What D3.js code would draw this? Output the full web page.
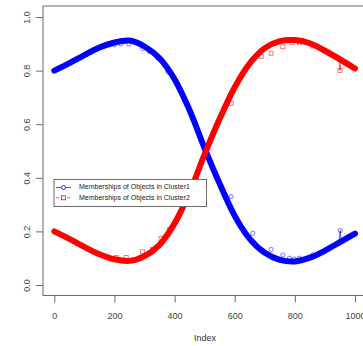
<!DOCTYPE html>
<html>
<head>
<meta charset="utf-8">
<script src="https://cdn.jsdelivr.net/npm/d3@7"></script>
<style>
  html, body { margin: 0; padding: 0; background: #fff; }
  svg { display: block; font-family: "Liberation Sans", Arial, sans-serif; }
</style>
</head>
<body>
<svg id="chart" width="363" height="346"></svg>
<script>
// Object index positions where memberships are sampled
const indexes = [0, 50, 100, 150, 200, 250, 300, 350, 400, 450, 500,
                 550, 600, 650, 700, 750, 800, 850, 900, 950, 1000];

// Membership of objects in cluster 1
const cluster1 = [0.800, 0.828, 0.858, 0.886, 0.905, 0.912, 0.890, 0.846, 0.768, 0.652, 0.510,
                  0.378, 0.258, 0.172, 0.120, 0.094, 0.088, 0.102, 0.128, 0.160, 0.192];

// Membership of objects in cluster 2
const cluster2 = [0.200, 0.172, 0.142, 0.115, 0.096, 0.090, 0.108, 0.150, 0.230, 0.345, 0.488,
                  0.620, 0.738, 0.827, 0.884, 0.910, 0.914, 0.902, 0.874, 0.842, 0.808];

// Individual objects standing off the main membership curves: [index, membership]
const cluster1Points = [[200, 0.896], [222, 0.899], [248, 0.899], [294, 0.883], [316, 0.871],
                        [344, 0.846], [377, 0.796], [588, 0.330], [660, 0.193], [721, 0.133],
                        [760, 0.112], [782, 0.100], [798, 0.097], [815, 0.100], [859, 0.112],
                        [920, 0.143]];
const cluster2Points = [[206, 0.103], [239, 0.103], [294, 0.124], [327, 0.133], [355, 0.174],
                        [383, 0.205], [588, 0.678], [688, 0.853], [721, 0.865], [760, 0.889],
                        [791, 0.904], [815, 0.904], [859, 0.892]];
// Short runs where a single object jumps away from the curve
const cluster1Spike = [[946, 0.158], [951, 0.203], [954, 0.162]];
const cluster2Spike = [[946, 0.842], [950, 0.800], [954, 0.838]];

const xTicks = [0, 200, 400, 600, 800, 1000];
const yTicks = [0, 0.2, 0.4, 0.6, 0.8, 1.0];
const legendLabels = ["Memberships of Objects in Cluster1", "Memberships of Objects in Cluster2"];

const svg = d3.select("#chart");
const box = { left: 43, top: 6, right: 372, bottom: 295.5 };

const x = d3.scaleLinear().domain([0, 1000]).range([54.3, 355]);
const y = d3.scaleLinear().domain([0, 1]).range([285, 17]);

// plot frame
svg.append("rect")
  .attr("x", box.left).attr("y", box.top)
  .attr("width", box.right - box.left).attr("height", box.bottom - box.top)
  .attr("fill", "none").attr("stroke", "#6a6a6a").attr("stroke-width", 1);

// y axis
const yAxis = svg.append("g").attr("transform", `translate(${box.left},0)`)
  .call(d3.axisLeft(y).tickValues(yTicks).tickSize(7).tickFormat(d3.format(".1f")));
yAxis.select(".domain").remove();
yAxis.selectAll(".tick line").attr("stroke", "#6a6a6a");
yAxis.selectAll(".tick text")
  .attr("x", 0).attr("dy", 0)
  .attr("transform", "translate(-15,0) rotate(-90)")
  .attr("text-anchor", "middle")
  .attr("dominant-baseline", "middle")
  .attr("font-size", 9).attr("fill", "#444")
  .attr("font-family", "'Liberation Sans', Arial, sans-serif");

// x axis
const xAxis = svg.append("g").attr("transform", `translate(0,${box.bottom})`)
  .call(d3.axisBottom(x).tickValues(xTicks).tickSize(7).tickFormat(d3.format("d")));
xAxis.select(".domain").remove();
xAxis.selectAll(".tick line").attr("stroke", "#6a6a6a");
xAxis.selectAll(".tick text")
  .attr("y", 17)
  .attr("font-size", 9).attr("fill", "#444")
  .attr("font-family", "'Liberation Sans', Arial, sans-serif");

svg.append("text")
  .attr("x", 205).attr("y", 341)
  .attr("text-anchor", "middle")
  .attr("font-size", 9).attr("fill", "#333")
  .text("Index");

const line = d3.line()
  .x(d => x(d[0])).y(d => y(d[1]))
  .curve(d3.curveCatmullRom.alpha(0.5));
const thinLine = d3.line().x(d => x(d[0])).y(d => y(d[1]));

const series = [
  { values: cluster1, points: cluster1Points, spike: cluster1Spike, color: "#0000ff", shape: "circle" },
  { values: cluster2, points: cluster2Points, spike: cluster2Spike, color: "#ff0000", shape: "square" }
];

series.forEach(s => {
  const data = indexes.map((ix, i) => [ix, s.values[i]]);
  const g = svg.append("g");

  const drawMark = (sel, p) => {
    if (s.shape === "circle") {
      sel.append("circle").attr("cx", x(p[0])).attr("cy", y(p[1])).attr("r", 2.1)
        .attr("fill", "none").attr("stroke", s.color).attr("stroke-width", 0.7).attr("opacity", 0.75);
    } else {
      sel.append("rect").attr("x", x(p[0]) - 2).attr("y", y(p[1]) - 2)
        .attr("width", 4).attr("height", 4)
        .attr("fill", "none").attr("stroke", s.color).attr("stroke-width", 0.7).attr("opacity", 0.75);
    }
  };

  s.points.forEach(p => drawMark(g, p));

  g.append("path").datum(s.spike)
    .attr("d", thinLine)
    .attr("fill", "none").attr("stroke", s.color).attr("stroke-width", 0.8).attr("opacity", 0.8);
  drawMark(g, s.spike[1]);

  g.append("path").datum(data)
    .attr("d", line)
    .attr("fill", "none")
    .attr("stroke", s.color)
    .attr("stroke-width", 6)
    .attr("stroke-linecap", "round")
    .attr("stroke-linejoin", "round");
});

// legend
const lg = svg.append("g");
lg.append("rect")
  .attr("x", 54).attr("y", 179.5).attr("width", 152.5).attr("height", 27)
  .attr("fill", "#fff").attr("stroke", "#6a6a6a").attr("stroke-width", 1);

series.forEach((s, i) => {
  const yy = 187.5 + i * 10.3;
  lg.append("line")
    .attr("x1", 56).attr("x2", 71).attr("y1", yy).attr("y2", yy)
    .attr("stroke", s.color).attr("stroke-width", 0.8)
    .attr("stroke-dasharray", i === 1 ? "3,2.5" : null)
    .attr("opacity", 0.85);
  if (s.shape === "circle") {
    lg.append("circle").attr("cx", 63.5).attr("cy", yy).attr("r", 2)
      .attr("fill", "#fff").attr("stroke", s.color).attr("stroke-width", 0.8);
  } else {
    lg.append("rect").attr("x", 61.5).attr("y", yy - 2).attr("width", 4).attr("height", 4)
      .attr("fill", "#fff").attr("stroke", s.color).attr("stroke-width", 0.8);
  }
  lg.append("text")
    .attr("x", 79).attr("y", yy)
    .attr("dominant-baseline", "middle")
    .attr("font-size", 7).attr("fill", "#222")
    .text(legendLabels[i]);
});
</script>
</body>
</html>
